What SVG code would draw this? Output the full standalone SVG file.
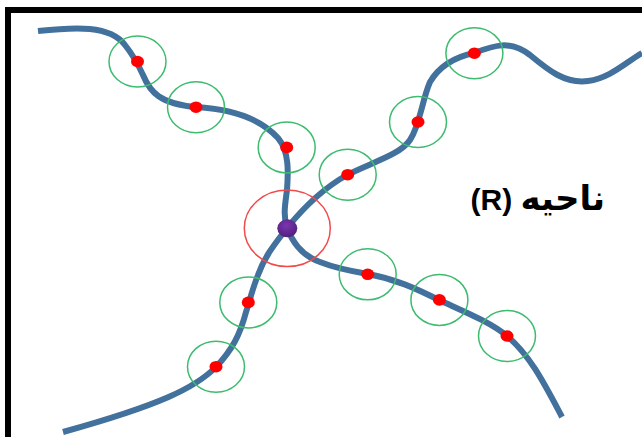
<svg xmlns="http://www.w3.org/2000/svg" width="642" height="437" viewBox="0 0 642 437">
<defs>
<radialGradient id="pg" cx="0.45" cy="0.35" r="0.7">
<stop offset="0" stop-color="#7b35b0"/>
<stop offset="1" stop-color="#4e1f78"/>
</radialGradient>
</defs>
<style>
.curve{fill:none;stroke:#41719c;stroke-width:6}
.ring{fill:none;stroke:#3dbb6e;stroke-width:1.5}
.dot{fill:#ff0000}
.label{font-family:"Liberation Sans","DejaVu Sans",sans-serif;font-weight:bold;font-size:30px;fill:#000}
</style>
<rect x="0" y="0" width="642" height="437" fill="#fff"/>
<rect x="8" y="10" width="700" height="500" fill="none" stroke="#000" stroke-width="6"/>
<g id="connectors">
<path class="curve" d="M38,31 C75,27 110,25 125,45 C133,55 137,62 143,75 C150,92 160,104 196,107 C230,109 260,118 278,138 C290,152 288,175 287,190 C285,205 283,215 287,228"/>
<path class="curve" d="M287,228 C300,212 320,190 347,175 C370,163 400,155 410,140 C420,125 422,100 430,82 C440,65 455,57 474,53 C495,45 510,40 530,55 C548,70 565,84 588,81 C610,78 625,63 642,53"/>
<path class="curve" d="M287,228 C278,240 265,255 258,275 C252,290 250,300 246,312 C240,335 232,350 216,367 C195,388 160,405 63,432"/>
<path class="curve" d="M287,228 C292,240 300,255 320,262 C335,268 350,271 368,274 C395,279 415,288 439,300 C465,312 490,322 507,336 C530,355 545,385 562,417"/>
</g>
<g id="center">
<ellipse cx="287.3" cy="228.3" rx="43" ry="38.3" fill="none" stroke="#f24a4a" stroke-width="1.5"/>
<ellipse cx="287.3" cy="228.3" rx="10" ry="9" fill="url(#pg)"/>
</g>
<g id="p1"><ellipse class="ring" cx="137.5" cy="61.5" rx="28.5" ry="25.5"/><ellipse class="dot" cx="137.5" cy="61.5" rx="6.5" ry="5.8"/></g>
<g id="p2"><ellipse class="ring" cx="196" cy="107.2" rx="28.5" ry="25.5"/><ellipse class="dot" cx="196" cy="107.2" rx="6.5" ry="5.8"/></g>
<g id="p3"><ellipse class="ring" cx="286.7" cy="147.4" rx="28.5" ry="25.5"/><ellipse class="dot" cx="286.7" cy="147.4" rx="6.5" ry="5.8"/></g>
<g id="p4"><ellipse class="ring" cx="347.7" cy="174.7" rx="28.5" ry="25.5"/><ellipse class="dot" cx="347.7" cy="174.7" rx="6.5" ry="5.8"/></g>
<g id="p5"><ellipse class="ring" cx="418" cy="122" rx="28.5" ry="25.5"/><ellipse class="dot" cx="418" cy="122" rx="6.5" ry="5.8"/></g>
<g id="p6"><ellipse class="ring" cx="474.4" cy="53.2" rx="28.5" ry="25.5"/><ellipse class="dot" cx="474.4" cy="53.2" rx="6.5" ry="5.8"/></g>
<g id="p7"><ellipse class="ring" cx="367.7" cy="274.3" rx="28.5" ry="25.5"/><ellipse class="dot" cx="367.7" cy="274.3" rx="6.5" ry="5.8"/></g>
<g id="p8"><ellipse class="ring" cx="439.4" cy="299.9" rx="28.5" ry="25.5"/><ellipse class="dot" cx="439.4" cy="299.9" rx="6.5" ry="5.8"/></g>
<g id="p9"><ellipse class="ring" cx="507" cy="336" rx="28.5" ry="25.5"/><ellipse class="dot" cx="507" cy="336" rx="6.5" ry="5.8"/></g>
<g id="p10"><ellipse class="ring" cx="248.3" cy="302.4" rx="28.5" ry="25.5"/><ellipse class="dot" cx="248.3" cy="302.4" rx="6.5" ry="5.8"/></g>
<g id="p11"><ellipse class="ring" cx="216" cy="366.7" rx="28.5" ry="25.5"/><ellipse class="dot" cx="216" cy="366.7" rx="6.5" ry="5.8"/></g>
<g id="label">
<text class="label" x="605" y="210" text-anchor="start" direction="rtl"><tspan font-size="34">ناحیه</tspan> (R)</text>
</g>
</svg>
